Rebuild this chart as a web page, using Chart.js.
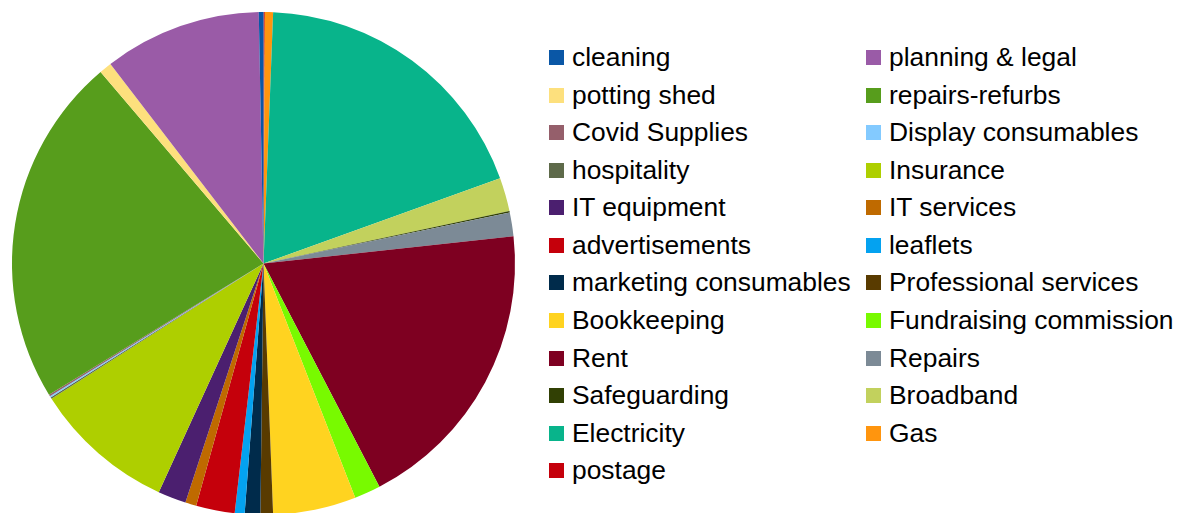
<!DOCTYPE html>
<html>
<head>
<meta charset="utf-8">
<script src="https://cdn.jsdelivr.net/npm/chart.js@4/dist/chart.umd.min.js"></script>
<style>
  html, body { margin: 0; padding: 0; background: #fff; overflow: hidden; }
  #wrap { position: absolute; left: 0; top: 0; width: 527px; height: 527px; }
  #legend {
    position: absolute; left: 549px; top: 38.7px;
    display: grid; grid-template-columns: 317px auto; grid-auto-rows: 37.58px;
    font-family: "Liberation Sans", Arial, sans-serif; font-size: 26.4px; color: #000;
  }
  .item { display: flex; align-items: center; white-space: nowrap; }
  .box { width: 15px; height: 15px; margin-right: 8px; flex: none; }
</style>
</head>
<body>
<div id="wrap"><canvas id="pie" width="527" height="527"></canvas></div>
<div id="legend"></div>
<script>
const categories = ["cleaning", "planning & legal", "potting shed", "repairs-refurbs",
  "Covid Supplies", "Display consumables", "hospitality", "Insurance",
  "IT equipment", "IT services", "advertisements", "leaflets",
  "marketing consumables", "Professional services", "Bookkeeping", "Fundraising commission",
  "Rent", "Repairs", "Safeguarding", "Broadband", "Electricity", "Gas", "postage"];

const costs = [54, 1821, 144, 4055,
  18, 17, 18, 1643,
  326, 128, 447, 114,
  180, 145, 960, 303,
  3440, 274, 15, 390, 3399, 95, 15];

const colours = ["#0a57a6", "#9a5ba7", "#fde07d", "#579d1c",
  "#955f6b", "#83caff", "#5e6a4a", "#aecf00",
  "#4b1f6f", "#bf6a00", "#c5000b", "#04a2f0",
  "#002b4b", "#593b00", "#ffd320", "#78fa00",
  "#7e0021", "#7c8a96", "#314004", "#c2d15d", "#08b48b", "#ff950e", "#c5000b"];

// slices run anticlockwise from 12 o'clock in the original, chart.js goes clockwise
const rev = a => a.slice().reverse();

new Chart(document.getElementById("pie").getContext("2d"), {
  type: "pie",
  data: {
    labels: rev(categories),
    datasets: [{
      data: rev(costs),
      backgroundColor: rev(colours),
      borderWidth: 0
    }]
  },
  options: {
    responsive: false,
    animation: false,
    rotation: 0,
    layout: { padding: 12 },
    plugins: {
      legend: { display: false },
      tooltip: { enabled: false }
    }
  }
});

const legend = document.getElementById("legend");
categories.forEach((name, i) => {
  const item = document.createElement("div");
  item.className = "item";
  item.innerHTML = '<span class="box" style="background:' + colours[i] + '"></span><span>' + name.replace("&", "&amp;") + "</span>";
  legend.appendChild(item);
});
</script>
</body>
</html>
